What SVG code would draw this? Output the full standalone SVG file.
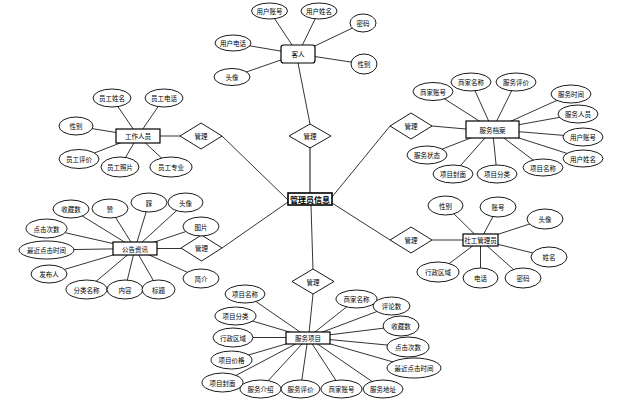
<svg xmlns="http://www.w3.org/2000/svg" width="637" height="410" viewBox="0 0 637 410">
<style>
.c line{stroke:#000;stroke-width:0.8}
.a ellipse{fill:#fff;stroke:#000;stroke-width:0.9}
.e rect{fill:#fff;stroke:#000;stroke-width:1.2}
.r polygon{fill:#fff;stroke:#000;stroke-width:0.9}
text{font-family:"Noto Sans CJK SC","Liberation Sans",sans-serif;font-size:6.5px;text-anchor:middle;dominant-baseline:central;fill:#000}
.big{font-size:8px;font-weight:bold}
</style>
<rect width="637" height="410" fill="#fff"/>
<g id="connectors" class="c">
<!-- main -->
<line x1="310" y1="199" x2="310" y2="136" style="stroke:#666;stroke-width:1.6"/>
<line x1="310" y1="124" x2="298" y2="63"/>
<line x1="288" y1="200" x2="222" y2="136"/>
<line x1="288" y1="202" x2="222" y2="248"/>
<line x1="332" y1="197" x2="390" y2="126"/>
<line x1="332" y1="203" x2="390" y2="240"/>
<line x1="311" y1="205" x2="313" y2="270"/>
<line x1="313" y1="294" x2="309" y2="333"/>
<line x1="160" y1="136" x2="181" y2="136"/>
<line x1="157" y1="248.5" x2="181" y2="248.5"/>
<line x1="432" y1="126" x2="466" y2="129"/>
<line x1="432" y1="240" x2="463" y2="240"/>
<!-- 客人 -->
<line x1="269.5" y1="11" x2="298" y2="54"/>
<line x1="319" y1="11" x2="298" y2="54"/>
<line x1="363" y1="23" x2="298" y2="54"/>
<line x1="233" y1="43" x2="298" y2="54"/>
<line x1="232" y1="77" x2="298" y2="54"/>
<line x1="364" y1="64" x2="298" y2="54"/>
<!-- 工作人员 -->
<line x1="112" y1="98" x2="138" y2="136"/>
<line x1="164" y1="98" x2="138" y2="136"/>
<line x1="76" y1="126" x2="138" y2="136"/>
<line x1="79" y1="159" x2="138" y2="136"/>
<line x1="120" y1="167" x2="138" y2="136"/>
<line x1="171" y1="167" x2="138" y2="136"/>
<!-- 服务档案 -->
<line x1="433" y1="91.5" x2="492.5" y2="129.5"/>
<line x1="471" y1="82" x2="492.5" y2="129.5"/>
<line x1="516" y1="82" x2="492.5" y2="129.5"/>
<line x1="571" y1="94" x2="492.5" y2="129.5"/>
<line x1="578" y1="114" x2="492.5" y2="129.5"/>
<line x1="583" y1="137" x2="492.5" y2="129.5"/>
<line x1="583" y1="158.5" x2="492.5" y2="129.5"/>
<line x1="543" y1="167.5" x2="492.5" y2="129.5"/>
<line x1="497" y1="174" x2="492.5" y2="129.5"/>
<line x1="453" y1="174" x2="492.5" y2="129.5"/>
<line x1="427" y1="155" x2="492.5" y2="129.5"/>
<!-- 公告资讯 -->
<line x1="71" y1="209" x2="135" y2="248.5"/>
<line x1="110" y1="208.5" x2="135" y2="248.5"/>
<line x1="149" y1="202.5" x2="135" y2="248.5"/>
<line x1="185.5" y1="202.5" x2="135" y2="248.5"/>
<line x1="201" y1="226.5" x2="135" y2="248.5"/>
<line x1="46.5" y1="228.5" x2="135" y2="248.5"/>
<line x1="46.5" y1="250" x2="135" y2="248.5"/>
<line x1="49" y1="274" x2="135" y2="248.5"/>
<line x1="86.5" y1="289.5" x2="135" y2="248.5"/>
<line x1="125" y1="289.5" x2="135" y2="248.5"/>
<line x1="158.5" y1="289.5" x2="135" y2="248.5"/>
<line x1="201" y1="278.5" x2="135" y2="248.5"/>
<!-- 社工管理员 -->
<line x1="445.5" y1="205.5" x2="480.5" y2="240"/>
<line x1="498" y1="207" x2="480.5" y2="240"/>
<line x1="545" y1="219" x2="480.5" y2="240"/>
<line x1="549" y1="257" x2="480.5" y2="240"/>
<line x1="438" y1="272" x2="480.5" y2="240"/>
<line x1="480.5" y1="278" x2="480.5" y2="240"/>
<line x1="523" y1="278" x2="480.5" y2="240"/>
<!-- 服务项目 -->
<line x1="245" y1="294" x2="308" y2="337.5"/>
<line x1="235.5" y1="316" x2="308" y2="337.5"/>
<line x1="233" y1="337.5" x2="308" y2="337.5"/>
<line x1="231.5" y1="360" x2="308" y2="337.5"/>
<line x1="222.5" y1="382.5" x2="308" y2="337.5"/>
<line x1="260.5" y1="389" x2="308" y2="337.5"/>
<line x1="300.5" y1="389" x2="308" y2="337.5"/>
<line x1="341.5" y1="389" x2="308" y2="337.5"/>
<line x1="383" y1="389" x2="308" y2="337.5"/>
<line x1="356.5" y1="299" x2="308" y2="337.5"/>
<line x1="391.5" y1="306" x2="308" y2="337.5"/>
<line x1="401" y1="326" x2="308" y2="337.5"/>
<line x1="408" y1="347" x2="308" y2="337.5"/>
<line x1="414" y1="368" x2="308" y2="337.5"/>
</g>
<g id="relations" class="r">
<g id="rel-top"><polygon points="310,124 331,136 310,148 289,136"/><text x="310" y="136">管理</text></g>
<g id="rel-staff"><polygon points="201,123 222,136 201,149 180,136"/><text x="201" y="136">管理</text></g>
<g id="rel-notice"><polygon points="201.5,235 222,248 201.5,261 181,248"/><text x="201.5" y="248">管理</text></g>
<g id="rel-archive"><polygon points="411,113 432,126 411,139 390,126"/><text x="411" y="126">管理</text></g>
<g id="rel-social"><polygon points="411,227 432,240 411,253 390,240"/><text x="411" y="240">管理</text></g>
<g id="rel-project"><polygon points="313,269 334,281.5 313,294 292,281.5"/><text x="313" y="281.5">管理</text></g>
</g>
<g id="entities" class="e">
<g id="admin"><rect x="288" y="193" width="44" height="12" style="stroke-width:1.6"/><text class="big" x="310" y="199">管理员信息</text></g>
<g id="guest"><rect x="281" y="45" width="34" height="18" rx="2.5"/><text x="298" y="54">客人</text></g>
<g id="staff"><rect x="116" y="129" width="44" height="14"/><text x="138" y="136">工作人员</text></g>
<g id="archive"><rect x="466" y="121" width="53" height="17"/><text x="492.5" y="129.5">服务档案</text></g>
<g id="notice"><rect x="113" y="242" width="44" height="13"/><text x="135" y="248.5">公告资讯</text></g>
<g id="social"><rect x="463" y="234" width="35" height="12"/><text x="480.5" y="240">社工管理员</text></g>
<g id="project"><rect x="286" y="332" width="44" height="12"/><text x="308" y="338">服务项目</text></g>
</g>
<g id="attributes" class="a">
<g id="g1"><ellipse cx="269.5" cy="11" rx="18" ry="8"/><text x="269.5" y="11">用户账号</text></g>
<g id="g2"><ellipse cx="319" cy="11" rx="18" ry="8"/><text x="319" y="11">用户姓名</text></g>
<g id="g3"><ellipse cx="363" cy="23" rx="13" ry="9"/><text x="363" y="23">密码</text></g>
<g id="g4"><ellipse cx="233" cy="43" rx="18" ry="8"/><text x="233" y="43">用户电话</text></g>
<g id="g5"><ellipse cx="232" cy="77" rx="18" ry="8.5"/><text x="232" y="77">头像</text></g>
<g id="g6"><ellipse cx="364" cy="64" rx="13" ry="10"/><text x="364" y="64">性别</text></g>

<g id="s1"><ellipse cx="112" cy="98" rx="19" ry="9"/><text x="112" y="98">员工姓名</text></g>
<g id="s2"><ellipse cx="164" cy="98" rx="19" ry="9"/><text x="164" y="98">员工电话</text></g>
<g id="s3"><ellipse cx="76" cy="126" rx="17" ry="9"/><text x="76" y="126">性别</text></g>
<g id="s4"><ellipse cx="79" cy="159" rx="20" ry="9.5"/><text x="79" y="159">员工评价</text></g>
<g id="s5"><ellipse cx="120" cy="167" rx="19" ry="10"/><text x="120" y="167">员工照片</text></g>
<g id="s6"><ellipse cx="171" cy="167" rx="21" ry="10"/><text x="171" y="167">员工专业</text></g>

<g id="a1"><ellipse cx="433" cy="91.5" rx="20" ry="9"/><text x="433" y="91.5">商家账号</text></g>
<g id="a2"><ellipse cx="471" cy="82" rx="20" ry="9"/><text x="471" y="82">商家名称</text></g>
<g id="a3"><ellipse cx="516" cy="82" rx="20" ry="9"/><text x="516" y="82">服务评价</text></g>
<g id="a4"><ellipse cx="571" cy="94" rx="20" ry="9"/><text x="571" y="94">服务时间</text></g>
<g id="a5"><ellipse cx="578" cy="114" rx="20" ry="9"/><text x="578" y="114">服务人员</text></g>
<g id="a6"><ellipse cx="583" cy="137" rx="20" ry="9"/><text x="583" y="137">用户账号</text></g>
<g id="a7"><ellipse cx="583" cy="158.5" rx="20" ry="8.5"/><text x="583" y="158.5">用户姓名</text></g>
<g id="a8"><ellipse cx="543" cy="167.5" rx="20" ry="8.5"/><text x="543" y="167.5">项目名称</text></g>
<g id="a9"><ellipse cx="497" cy="174" rx="20" ry="9"/><text x="497" y="174">项目分类</text></g>
<g id="a10"><ellipse cx="453" cy="174" rx="20" ry="9"/><text x="453" y="174">项目封面</text></g>
<g id="a11"><ellipse cx="427" cy="155" rx="20" ry="9"/><text x="427" y="155">服务状态</text></g>

<g id="n1"><ellipse cx="71" cy="209" rx="18" ry="9"/><text x="71" y="209">收藏数</text></g>
<g id="n2"><ellipse cx="110" cy="208.5" rx="18" ry="9.5"/><text x="110" y="208.5">赞</text></g>
<g id="n3"><ellipse cx="149" cy="202.5" rx="18" ry="9.5"/><text x="149" y="202.5">踩</text></g>
<g id="n4"><ellipse cx="185.5" cy="202.5" rx="17.5" ry="9.5"/><text x="185.5" y="202.5">头像</text></g>
<g id="n5"><ellipse cx="201" cy="226.5" rx="18" ry="9.5"/><text x="201" y="226.5">图片</text></g>
<g id="n6"><ellipse cx="46.5" cy="228.5" rx="20.5" ry="9.5"/><text x="46.5" y="228.5">点击次数</text></g>
<g id="n7"><ellipse cx="46.5" cy="250" rx="27.5" ry="9"/><text x="46.5" y="250">最近点击时间</text></g>
<g id="n8"><ellipse cx="49" cy="274" rx="18" ry="9"/><text x="49" y="274">发布人</text></g>
<g id="n9"><ellipse cx="86.5" cy="289.5" rx="20.5" ry="9.5"/><text x="86.5" y="289.5">分类名称</text></g>
<g id="n10"><ellipse cx="125" cy="289.5" rx="18" ry="9.5"/><text x="125" y="289.5">内容</text></g>
<g id="n11"><ellipse cx="158.5" cy="289.5" rx="16.5" ry="9.5"/><text x="158.5" y="289.5">标题</text></g>
<g id="n12"><ellipse cx="201" cy="278.5" rx="18" ry="9.5"/><text x="201" y="278.5">简介</text></g>

<g id="w1"><ellipse cx="445.5" cy="205.5" rx="17.5" ry="9.5"/><text x="445.5" y="205.5">性别</text></g>
<g id="w2"><ellipse cx="498" cy="207" rx="18" ry="10"/><text x="498" y="207">账号</text></g>
<g id="w3"><ellipse cx="545" cy="219" rx="18" ry="10"/><text x="545" y="219">头像</text></g>
<g id="w4"><ellipse cx="549" cy="257" rx="18" ry="10"/><text x="549" y="257">姓名</text></g>
<g id="w5"><ellipse cx="438" cy="272" rx="21" ry="10"/><text x="438" y="272">行政区域</text></g>
<g id="w6"><ellipse cx="480.5" cy="278" rx="17.5" ry="10"/><text x="480.5" y="278">电话</text></g>
<g id="w7"><ellipse cx="523" cy="278" rx="18" ry="10"/><text x="523" y="278">密码</text></g>

<g id="p1"><ellipse cx="245" cy="294" rx="20" ry="9"/><text x="245" y="294">项目名称</text></g>
<g id="p2"><ellipse cx="235.5" cy="316" rx="20.5" ry="9"/><text x="235.5" y="316">项目分类</text></g>
<g id="p3"><ellipse cx="233" cy="337.5" rx="20" ry="9.5"/><text x="233" y="337.5">行政区域</text></g>
<g id="p4"><ellipse cx="231.5" cy="360" rx="20.5" ry="9"/><text x="231.5" y="360">项目价格</text></g>
<g id="p5"><ellipse cx="222.5" cy="382.5" rx="20.5" ry="9.5"/><text x="222.5" y="382.5">项目封面</text></g>
<g id="p6"><ellipse cx="260.5" cy="389" rx="20.5" ry="9"/><text x="260.5" y="389">服务介绍</text></g>
<g id="p7"><ellipse cx="300.5" cy="389" rx="19.5" ry="9"/><text x="300.5" y="389">服务评价</text></g>
<g id="p8"><ellipse cx="341.5" cy="389" rx="20.5" ry="9"/><text x="341.5" y="389">商家账号</text></g>
<g id="p9"><ellipse cx="383" cy="389" rx="20" ry="9"/><text x="383" y="389">服务地址</text></g>
<g id="p10"><ellipse cx="356.5" cy="299" rx="20.5" ry="9"/><text x="356.5" y="299">商家名称</text></g>
<g id="p11"><ellipse cx="391.5" cy="306" rx="18.5" ry="9"/><text x="391.5" y="306">评论数</text></g>
<g id="p12"><ellipse cx="401" cy="326" rx="18" ry="10"/><text x="401" y="326">收藏数</text></g>
<g id="p13"><ellipse cx="408" cy="347" rx="21" ry="10"/><text x="408" y="347">点击次数</text></g>
<g id="p14"><ellipse cx="414" cy="368" rx="27" ry="10"/><text x="414" y="368">最近点击时间</text></g>
</g>
</svg>
